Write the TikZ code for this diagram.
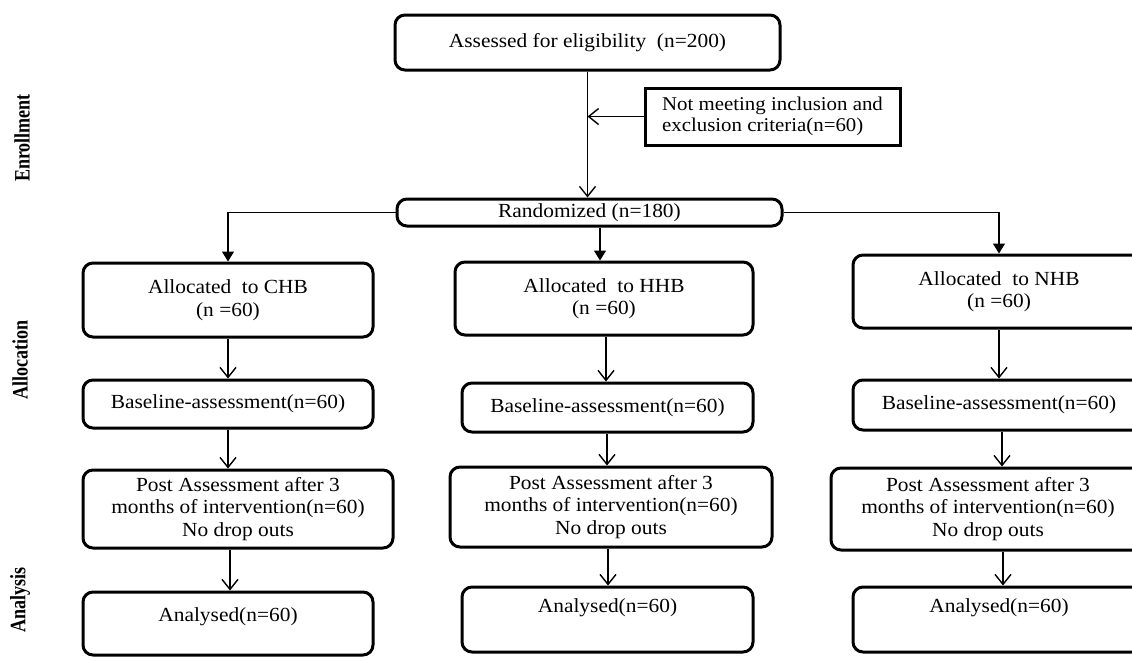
\documentclass[tikz,border=0pt]{standalone}
\usepackage{fontspec}
\setmainfont{Liberation Serif}[FakeStretch=1.07]
\newfontfamily\sidefont{Liberation Serif}[FakeStretch=0.82]
\usetikzlibrary{arrows.meta,calc}
\begin{document}
\begin{tikzpicture}[x=1pt,y=-1pt,
  box/.style={draw, line width=3pt, rounded corners=10pt, inner sep=0pt, align=center,
    font=\fontsize{20}{22.5}\selectfont},
  sqbox/.style={draw, line width=3pt, inner sep=0pt, align=left,
    font=\fontsize{19.5}{21}\selectfont},
  txt/.style={inner sep=0pt, align=center, font=\fontsize{20}{22.5}\selectfont},
  side/.style={rotate=90, inner sep=0pt, font=\sidefont\bfseries\fontsize{22}{24}\selectfont},
  conn/.style={line width=1.4pt},
  openarr/.style={conn, -{Straight Barb[length=10pt,width=16pt,line width=1.4pt]}},
  fillarr/.style={conn, -{Triangle[length=10pt,width=12pt]}}
]
\useasboundingbox (0,0) rectangle (1132,657);
\clip (0,0) rectangle (1132,657);

% side labels
\node[side] (lenr) at (22,138) {Enrollment};
\node[side] (lall) at (20,360) {Allocation};
\node[side] (lana) at (20,600) {Analysis};

% top
\node[box, minimum width=385pt, minimum height=55pt] (assess) at (587.5,42.5) {Assessed for eligibility\ \ (n=200)};
\node[sqbox, minimum width=255pt, minimum height=57pt] (notm) at (772.5,116.5) {Not meeting inclusion and\\exclusion criteria(n=60)};
\node[box, minimum width=385pt, minimum height=27pt] (rand) at (589.5,212.5) {Randomized (n=180)};

% CHB column
\node[box, minimum width=290pt, minimum height=74pt] (chbA) at (228,300) {Allocated\ \ to CHB\\(n =60)};
\node[box, minimum width=290pt, minimum height=48pt] (chbB) at (228,404) {Baseline-assessment(n=60)};
\node[box, minimum width=310pt, minimum height=78pt] (chbP) at (238,509) {Post Assessment after 3\\months of intervention(n=60)\\No drop outs};
\node[box, minimum width=290pt, minimum height=63pt] (chbN) at (228,623.5) {};
\node[txt] (chbNt) at (228,617) {Analysed(n=60)};

% HHB column
\node[box, minimum width=298pt, minimum height=73pt] (hhbA) at (604,298.5) {Allocated\ \ to HHB\\(n =60)};
\node[box, minimum width=291pt, minimum height=49pt] (hhbB) at (607.5,407.5) {Baseline-assessment(n=60)};
\node[box, minimum width=322pt, minimum height=80pt] (hhbP) at (611,507) {Post Assessment after 3\\months of intervention(n=60)\\No drop outs};
\node[box, minimum width=291pt, minimum height=65pt] (hhbN) at (607.5,619.5) {};
\node[txt] (hhbNt) at (607.5,608) {Analysed(n=60)};

% NHB column
\node[box, minimum width=292pt, minimum height=73pt] (nhbA) at (999,291.5) {Allocated\ \ to NHB\\(n =60)};
\node[box, minimum width=292pt, minimum height=50pt] (nhbB) at (999,405) {Baseline-assessment(n=60)};
\node[box, minimum width=314pt, minimum height=82pt] (nhbP) at (988,509) {Post Assessment after 3\\months of intervention(n=60)\\No drop outs};
\node[box, minimum width=292pt, minimum height=65pt] (nhbN) at (999,619.5) {};
\node[txt] (nhbNt) at (999,608) {Analysed(n=60)};

% connectors top
\draw[openarr] (assess.south) -- (assess.south |- rand.north);
\draw[openarr] (notm.west) -- (assess.south |- notm.west);
\draw[conn, line width=1.1pt, -{Triangle[length=10pt,width=12pt]}] (rand.west) -| (chbA.north);
\draw[conn, line width=1.1pt, -{Triangle[length=10pt,width=12pt]}] (rand.east) -| (nhbA.north);
\draw[fillarr] (hhbA.north |- rand.south) ++(-4,0) -- ++(0,33);

% CHB arrows
\draw[openarr] (chbA.south) -- (chbA.south |- chbB.north);
\draw[openarr] (chbB.south) -- (chbB.south |- chbP.north);
\draw[openarr] ($(chbB.south |- chbP.south)+(2,0)$) -- ($(chbB.south |- chbN.north)+(2,0)$);

% HHB arrows
\draw[openarr] ($(hhbA.south)+(2,0)$) -- ($(hhbA.south |- hhbB.north)+(2,0)$);
\draw[openarr] ($(hhbA.south |- hhbB.south)+(3,0)$) -- ($(hhbA.south |- hhbP.north)+(3,0)$);
\draw[openarr] ($(hhbA.south |- hhbP.south)+(4,0)$) -- ($(hhbA.south |- hhbN.north)+(4,0)$);

% NHB arrows
\draw[openarr] (nhbA.south) -- (nhbA.south |- nhbB.north);
\draw[openarr] ($(nhbB.south)+(3,0)$) -- ($(nhbB.south |- nhbP.north)+(3,0)$);
\draw[openarr] ($(nhbB.south |- nhbP.south)+(4,0)$) -- ($(nhbB.south |- nhbN.north)+(4,0)$);
\end{tikzpicture}
\end{document}
